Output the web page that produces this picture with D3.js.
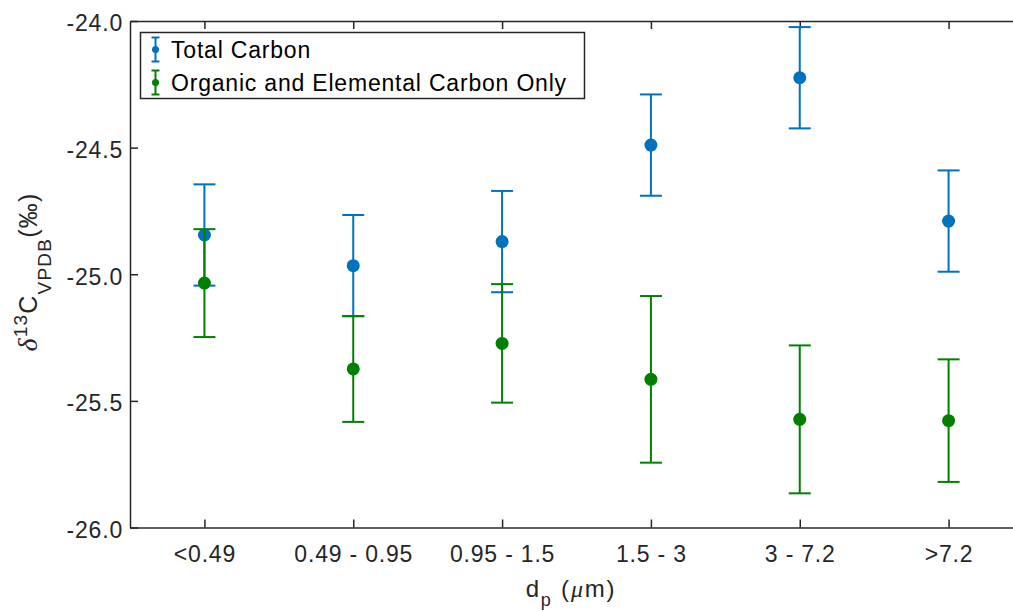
<!DOCTYPE html>
<html>
<head>
<meta charset="utf-8">
<script src="https://cdn.jsdelivr.net/npm/d3@7"></script>
<style>
  html, body { margin: 0; padding: 0; background: #fff; }
  svg { display: block; font-family: "Liberation Sans", Arial, sans-serif; }
</style>
</head>
<body>
<svg id="chart" width="1013" height="611"></svg>
<script>
// Particle size bins
const categories = ["<0.49", "0.49 - 0.95", "0.95 - 1.5", "1.5 - 3", "3 - 7.2", ">7.2"];

// δ13C (‰) and error half-widths per size bin
const totalCarbon    = [-24.845, -24.966, -24.871, -24.490, -24.224, -24.790];
const totalCarbonErr = [0.20, 0.20, 0.20, 0.20, 0.20, 0.20];
const ocecCarbon     = [-25.035, -25.374, -25.273, -25.415, -25.573, -25.578];
const ocecCarbonErr  = [0.213, 0.209, 0.234, 0.329, 0.292, 0.242];

const yTicks = [-26.0, -25.5, -25.0, -24.5, -24.0];

const seriesNames = ["Total Carbon", "Organic and Elemental Carbon Only"];
const seriesColors = ["#0072BD", "#008000"];

const svg = d3.select("#chart");
const axisColor = "#262626";
const fontSize = "23px";
const spacing = "0.8px";

const plot = { left: 130, right: 1023, top: 21, bottom: 527.5 };

const x = d3.scaleLinear().domain([0.5, categories.length + 0.5]).range([plot.left, plot.right]);
const y = d3.scaleLinear().domain([-26, -24]).range([plot.bottom, plot.top]);

// Axes box (bottom, left, top) with inward ticks
const tickLen = 8;
const fmt = d => d3.format(".1f")(d).replace("\u2212", "-");

const xBottom = svg.append("g").attr("transform", `translate(0,${plot.bottom})`)
  .call(d3.axisBottom(x).tickValues(d3.range(1, categories.length + 1))
    .tickFormat(i => categories[i - 1]).tickSizeInner(-tickLen).tickSizeOuter(0).tickPadding(18));
const xTop = svg.append("g").attr("transform", `translate(0,${plot.top})`)
  .call(d3.axisTop(x).tickValues(d3.range(1, categories.length + 1))
    .tickFormat("").tickSizeInner(-tickLen).tickSizeOuter(0));
const yLeft = svg.append("g").attr("transform", `translate(${plot.left},0)`)
  .call(d3.axisLeft(y).tickValues(yTicks).tickFormat(fmt)
    .tickSizeInner(-tickLen).tickSizeOuter(0).tickPadding(7));

[xBottom, xTop, yLeft].forEach(g => {
  g.attr("font-size", null).attr("font-family", null);
  g.select(".domain").attr("stroke", axisColor).attr("stroke-width", 1.5);
  g.selectAll(".tick line").attr("stroke", axisColor).attr("stroke-width", 1.5);
  g.selectAll(".tick text").attr("fill", axisColor)
    .style("font-size", fontSize).style("letter-spacing", spacing);
});
yLeft.selectAll(".tick text").attr("dy", "0.43em");

// Error bars with markers
const capHalf = 11;
function drawSeries(vals, errs, color) {
  const g = svg.append("g");
  vals.forEach((v, i) => {
    const cx = x(i + 1);
    const yHi = y(v + errs[i]), yLo = y(v - errs[i]);
    g.append("line").attr("x1", cx).attr("x2", cx).attr("y1", yHi).attr("y2", yLo)
      .attr("stroke", color).attr("stroke-width", 2);
    g.append("line").attr("x1", cx - capHalf).attr("x2", cx + capHalf).attr("y1", yHi).attr("y2", yHi)
      .attr("stroke", color).attr("stroke-width", 2);
    g.append("line").attr("x1", cx - capHalf).attr("x2", cx + capHalf).attr("y1", yLo).attr("y2", yLo)
      .attr("stroke", color).attr("stroke-width", 2);
    g.append("circle").attr("cx", cx).attr("cy", y(v)).attr("r", 6.5).attr("fill", color);
  });
}
drawSeries(totalCarbon, totalCarbonErr, seriesColors[0]);
drawSeries(ocecCarbon, ocecCarbonErr, seriesColors[1]);

// Legend
const legend = svg.append("g");
legend.append("rect").attr("x", 140.5).attr("y", 32.5).attr("width", 444).attr("height", 66)
  .attr("fill", "#fff").attr("stroke", axisColor).attr("stroke-width", 1.5);
seriesNames.forEach((name, k) => {
  const cy = 49.5 + k * 33;
  const c = seriesColors[k];
  const lx = 155.5;
  legend.append("line").attr("x1", lx).attr("x2", lx).attr("y1", cy - 12).attr("y2", cy + 12)
    .attr("stroke", c).attr("stroke-width", 2);
  legend.append("line").attr("x1", lx - 4).attr("x2", lx + 4).attr("y1", cy - 12).attr("y2", cy - 12)
    .attr("stroke", c).attr("stroke-width", 2);
  legend.append("line").attr("x1", lx - 4).attr("x2", lx + 4).attr("y1", cy + 12).attr("y2", cy + 12)
    .attr("stroke", c).attr("stroke-width", 2);
  legend.append("circle").attr("cx", lx).attr("cy", cy).attr("r", 3.5).attr("fill", c);
  legend.append("text").attr("x", 171).attr("y", cy + 8.3)
    .attr("fill", "#000").style("font-size", fontSize).style("letter-spacing", spacing).text(name);
});

// X axis title: d_p (μm)
const xt = svg.append("text").attr("x", 571).attr("y", 597).attr("text-anchor", "middle")
  .attr("fill", axisColor).style("font-size", "24px").style("letter-spacing", "1.8px");
xt.append("tspan").text("d");
xt.append("tspan").attr("dy", 9).style("font-size", "18px").text("p");
xt.append("tspan").attr("dy", -9).text(" (");
xt.append("tspan").style("font-style", "italic").style("font-family", "Liberation Serif, serif").text("μ");
xt.append("tspan").text("m)");

// Y axis title: δ13C_VPDB (‰)
const yt = svg.append("text").attr("transform", `translate(37,272) rotate(-90)`)
  .attr("text-anchor", "middle").attr("fill", axisColor)
  .style("font-size", "25px").style("letter-spacing", "1.2px");
yt.append("tspan").style("font-style", "italic").style("font-family", "Liberation Serif, serif")
  .style("font-size", "28px").text("δ");
yt.append("tspan").attr("dy", -10).style("font-size", "19px").text("13");
yt.append("tspan").attr("dy", 10).text("C");
yt.append("tspan").attr("dy", 14).style("font-size", "19px").text("VPDB");
yt.append("tspan").attr("dy", -14).text("(‰)");
</script>
</body>
</html>
